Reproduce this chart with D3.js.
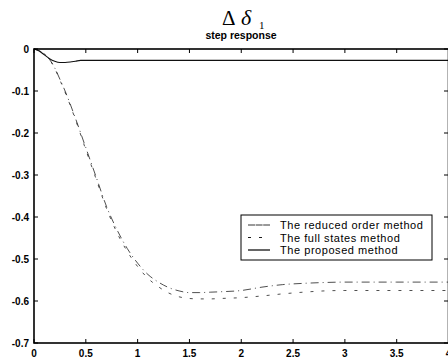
<!DOCTYPE html>
<html><head><meta charset="utf-8">
<script src="https://cdn.jsdelivr.net/npm/d3@7"></script>
<style>body{margin:0;background:#fff}svg{display:block}</style>
</head><body>
<svg id="c" width="448" height="362"></svg>
<script>
const xTicks = [0,0.5,1,1.5,2,2.5,3,3.5,4];
const xTickLabels = ["0","0.5","1","1.5","2","2.5","3","3.5","4"];
const yTicks = [0,-0.1,-0.2,-0.3,-0.4,-0.5,-0.6,-0.7];
const yTickLabels = ["0","-0.1","-0.2","-0.3","-0.4","-0.5","-0.6","-0.7"];
const seriesNames = ["The reduced order method","The full states method","The proposed method"];

const timeSlow = [0,0.05,0.1,0.15,0.2,0.25,0.3,0.4,0.5,0.6,0.7,0.8,0.9,1.0,1.1,1.2,1.3,1.4,1.5,1.6,1.7,1.8,2.0,2.2,2.4,2.6,2.8,3.0,3.5,4.0];
const reducedOrder = [0,-0.004,-0.012,-0.025,-0.045,-0.072,-0.10,-0.165,-0.235,-0.305,-0.375,-0.43,-0.475,-0.51,-0.537,-0.555,-0.568,-0.576,-0.58,-0.58,-0.579,-0.578,-0.575,-0.567,-0.561,-0.558,-0.556,-0.555,-0.555,-0.555];
const fullStates = [0,-0.004,-0.012,-0.025,-0.046,-0.074,-0.103,-0.168,-0.24,-0.31,-0.38,-0.437,-0.482,-0.518,-0.546,-0.566,-0.581,-0.59,-0.594,-0.595,-0.595,-0.594,-0.592,-0.588,-0.583,-0.579,-0.576,-0.575,-0.575,-0.575];
const timeFast = [0,0.05,0.1,0.15,0.2,0.25,0.3,0.35,0.4,0.45,0.5,1,2,3,4];
const proposed = [0,-0.005,-0.014,-0.023,-0.029,-0.032,-0.032,-0.031,-0.029,-0.027,-0.027,-0.027,-0.027,-0.027,-0.027];

const svg = d3.select("#c");
const x = d3.scaleLinear().domain([0,4]).range([34,448.5]);
const y = d3.scaleLinear().domain([-0.7,0]).range([343,49]);
const font = "Arial, 'Liberation Sans', sans-serif";
const serif = "'Liberation Serif','DejaVu Serif',serif";

// title
svg.append("text").attr("x",222).attr("y",25).attr("font-family",serif).attr("font-size",21).text("\u0394");
svg.append("text").attr("x",241).attr("y",25).attr("font-family",serif).attr("font-size",22)
  .attr("font-style","italic").text("\u03B4");
svg.append("text").attr("x",259).attr("y",28.5).attr("font-family",serif).attr("font-size",11).text("1");
svg.append("text").attr("x",241).attr("y",39).attr("text-anchor","middle")
  .attr("font-family",font).attr("font-size",10.5).attr("font-weight","bold").text("step response");

// lines
const line = d3.line().curve(d3.curveMonotoneX);
const g = svg.append("g");
g.append("path").attr("d", line(timeSlow.map((d,i)=>[x(d),y(reducedOrder[i])])))
  .attr("fill","none").attr("stroke","#222").attr("stroke-width",0.8).attr("stroke-dasharray","8,4,1,4");
g.append("path").attr("d", line(timeSlow.map((d,i)=>[x(d),y(fullStates[i])])))
  .attr("fill","none").attr("stroke","#222").attr("stroke-width",0.8).attr("stroke-dasharray","3,8");
g.append("path").attr("d", line(timeFast.map((d,i)=>[x(d),y(proposed[i])])))
  .attr("fill","none").attr("stroke","#111").attr("stroke-width",1.1);

// frame
svg.append("rect").attr("x",34).attr("y",49).attr("width",448.5-34).attr("height",343-49)
  .attr("fill","none").attr("stroke","#000").attr("stroke-width",1.6);

// ticks
const ax = svg.append("g").attr("stroke","#000").attr("stroke-width",1);
xTicks.forEach(v=>{
  ax.append("line").attr("x1",x(v)).attr("x2",x(v)).attr("y1",343).attr("y2",339);
  ax.append("line").attr("x1",x(v)).attr("x2",x(v)).attr("y1",49).attr("y2",53);
});
yTicks.forEach(v=>{
  ax.append("line").attr("x1",34).attr("x2",38).attr("y1",y(v)).attr("y2",y(v));
  ax.append("line").attr("x1",448).attr("x2",444).attr("y1",y(v)).attr("y2",y(v));
});
svg.append("g").selectAll("text").data(xTicks).join("text")
  .attr("x",d=>x(d)).attr("y",357).attr("text-anchor","middle")
  .attr("font-family",font).attr("font-size",10).attr("font-weight","bold")
  .text((d,i)=>xTickLabels[i]);
svg.append("g").selectAll("text").data(yTicks).join("text")
  .attr("x",29).attr("y",d=>y(d)+3.5).attr("text-anchor","end")
  .attr("font-family",font).attr("font-size",10).attr("font-weight","bold")
  .text((d,i)=>yTickLabels[i]);

// legend
const lg = svg.append("g");
lg.append("rect").attr("x",241).attr("y",215).attr("width",191).attr("height",45)
  .attr("fill","#fff").attr("stroke","#000").attr("stroke-width",1);
const dashes = ["7,0.6","3,8",null];
const widths = [0.8,0.9,1.2];
seriesNames.forEach((n,i)=>{
  const yy = 225 + i*12.5;
  const l = lg.append("line").attr("x1",248).attr("x2",270).attr("y1",yy).attr("y2",yy)
    .attr("stroke","#000").attr("stroke-width",widths[i]);
  if (dashes[i]) l.attr("stroke-dasharray",dashes[i]);
  lg.append("text").attr("x",280).attr("y",yy+4).attr("font-family",font)
    .attr("font-size",11).attr("letter-spacing",0.55).text(n);
});
</script>
</body></html>
